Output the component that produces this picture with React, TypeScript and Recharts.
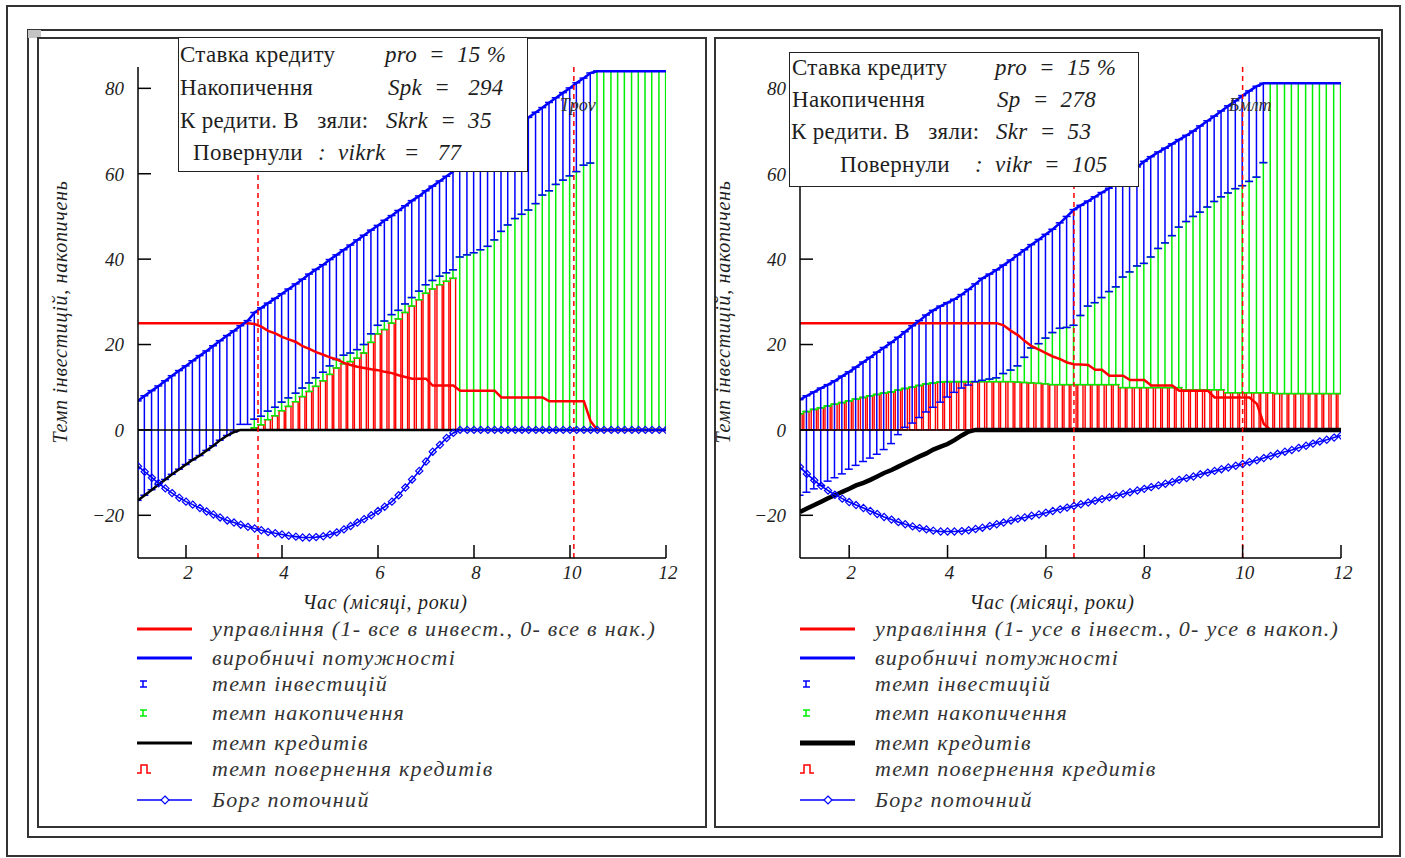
import { ComposedChart, Bar, Line, XAxis, YAxis, ReferenceLine } from "recharts";

const SERIF = '"Liberation Serif", "Times New Roman", serif';
const BLUE = "#0000ff";
const GREEN = "#00ee00";
const RED = "#ff0000";
const INK = "#1e1e1e";

// time grid shared by both panels
const time = [
  1.0, 1.14, 1.29, 1.43, 1.57, 1.71, 1.86, 2.0, 2.14, 2.29, 2.43, 2.57, 2.71, 2.86, 3.0, 3.14, 3.29, 3.43, 3.57, 3.71,
  3.86, 4.0, 4.14, 4.29, 4.43, 4.57, 4.71, 4.86, 5.0, 5.14, 5.29, 5.43, 5.57, 5.71, 5.86, 6.0, 6.14, 6.29, 6.43, 6.57,
  6.71, 6.86, 7.0, 7.14, 7.29, 7.43, 7.57, 7.71, 7.86, 8.0, 8.14, 8.29, 8.43, 8.57, 8.71, 8.86, 9.0, 9.14, 9.29, 9.43,
  9.57, 9.71, 9.86, 10.0, 10.14, 10.29, 10.43, 10.57, 10.71, 10.86, 11.0, 11.14, 11.29, 11.43, 11.57, 11.71, 11.86, 12.0,
];

const xTicks = [2, 4, 6, 8, 10, 12];
const yTicks = [-20, 0, 20, 40, 60, 80];

// left panel: credit taken, then repaid
const capacityA = [
  6.8, 8.0, 9.2, 10.3, 11.5, 12.7, 13.9, 15.0, 16.2, 17.4, 18.5, 19.7, 20.9, 22.1, 23.2, 24.4, 25.6, 27.5, 28.6, 29.7,
  30.8, 31.9, 33.0, 34.2, 35.3, 36.5, 37.6, 38.7, 39.9, 41.0, 42.2, 43.3, 44.5, 45.6, 46.8, 47.9, 49.1, 50.2, 51.4, 52.5,
  53.7, 54.8, 56.0, 57.1, 58.3, 59.4, 60.6, 61.7, 62.9, 64.0, 65.2, 66.3, 67.5, 68.6, 69.8, 70.9, 72.1, 73.2, 74.4, 75.5,
  76.7, 77.8, 79.0, 80.1, 81.3, 82.4, 83.6, 84, 84, 84, 84, 84, 84, 84, 84, 84, 84, 84,
];
const investLowA = [
  -16.5, -15.3, -14.0, -12.8, -11.6, -10.4, -9.2, -8.1, -7.0, -6.0, -4.8, -3.7, -2.4, -1.3, -0.5, 1.3, 1.3, 2.5, 3.2, 4.4,
  5.3, 6.5, 7.5, 8.6, 9.8, 11.0, 12.2, 13.5, 15.0, 16.5, 17.5, 18.0, 18.8, 20.0, 22.5, 24.5, 25.5, 27.0, 28.0, 29.5,
  31.0, 32.5, 34.0, 35.0, 36.0, 36.8, 37.5, 40.5, 41.0, 41.5, 42.2, 43.0, 44.5, 46.5, 48.0, 49.5, 50.5, 51.5, 53.0, 55.0,
  56.0, 57.5, 58.5, 59.5, 60.5, 62.0, 62.5, 84, 84, 84, 84, 84, 84, 84, 84, 84, 84, 84,
];
const repayA = [
  null, null, null, null, null, null, null, null, null, null, null, null, null, null, null, null, null, 0.5, 1.2, 2.4,
  3.3, 4.5, 5.5, 6.6, 7.8, 9.0, 10.2, 11.5, 13.0, 14.5, 15.5, 16.0, 16.8, 18.0, 20.5, 22.5, 23.5, 25.0, 26.0, 27.5,
  29.0, 30.5, 32.0, 33.0, 34.0, 34.8, 35.5, null, null, null, null, null, null, null, null, null, null, null, null, null,
  null, null, null, null, null, null, null, null, null, null, null, null, null, null, null, null, null, null,
];
const creditA = [
  -16.5, -15.3, -14.0, -12.8, -11.6, -10.4, -9.2, -8.1, -7.0, -6.0, -4.8, -3.7, -2.4, -1.3, -0.5, 0, 0, 0, 0, 0,
  0, 0, 0, 0, 0, 0, 0, 0, 0, 0, 0, 0, 0, 0, 0, 0, 0, 0, 0, 0,
  0, 0, 0, 0, 0, 0, 0, 0, 0, 0, 0, 0, 0, 0, 0, 0, 0, 0, 0, 0,
  0, 0, 0, 0, 0, 0, 0, 0, 0, 0, 0, 0, 0, 0, 0, 0, 0, 0,
];
const debtA = [
  -8.5, -9.8, -11.2, -12.5, -13.7, -14.8, -15.9, -16.8, -17.5, -18.3, -19.1, -19.8, -20.5, -21.2, -21.7, -22.2, -22.7, -23.1, -23.5, -23.9,
  -24.2, -24.5, -24.8, -25.0, -25.2, -25.2, -25.1, -24.9, -24.5, -24.0, -23.3, -22.5, -21.7, -20.9, -20.0, -19.0, -18.0, -16.8, -15.3, -13.5,
  -11.6, -9.6, -7.4, -5.1, -3.5, -1.9, -0.7, 0, 0, 0, 0, 0, 0, 0, 0, 0, 0, 0, 0, 0,
  0, 0, 0, 0, 0, 0, 0, 0, 0, 0, 0, 0, 0, 0, 0, 0, 0, 0,
];
const controlA = [
  25, 25, 25, 25, 25, 25, 25, 25, 25, 25, 25, 25, 25, 25, 25, 25, 25, 24.8, 24.2, 23.2,
  22.6, 21.8, 21.2, 20.6, 19.6, 19.0, 18.2, 17.6, 17.0, 16.5, 15.7, 15.2, 14.8, 14.5, 14.2, 14.0, 13.6, 13.3, 12.8, 12.4,
  12.0, 12.0, 12.0, 10.4, 10.4, 10.4, 10.4, 9.2, 9.2, 9.2, 9.2, 9.2, 9.2, 7.6, 7.6, 7.6, 7.6, 7.6, 7.6, 7.6,
  6.7, 6.7, 6.7, 6.7, 6.7, 6.7, 2, 0, 0, 0, 0, 0, 0, 0, 0, 0, 0, 0,
];
const marksA = [3.5, 10.08];

// right panel
const capacityB = [
  7.1, 8.0, 8.9, 9.8, 10.6, 11.5, 12.6, 13.6, 14.7, 15.9, 17.0, 18.2, 19.3, 20.5, 21.7, 23.0, 24.4, 25.6, 26.9, 28.0,
  29.0, 29.8, 30.6, 31.7, 32.9, 34.2, 35.5, 36.5, 37.5, 38.6, 39.8, 41.0, 42.2, 43.4, 44.6, 45.8, 47.0, 48.5, 50.0, 51.6,
  52.6, 53.6, 54.6, 55.6, 56.6, 57.8, 59.1, 60.3, 61.6, 62.9, 64.0, 65.1, 66.0, 67.0, 68.0, 69.0, 70.0, 71.2, 72.4, 73.5,
  74.7, 75.9, 77.1, 78.3, 79.4, 80.5, 81.2, 81.2, 81.2, 81.2, 81.2, 81.2, 81.2, 81.2, 81.2, 81.2, 81.2, 81.2,
];
const investLowB = [
  -15.3, -14.6, -13.8, -13.0, -12.0, -11.2, -10.3, -9.2, -8.3, -7.4, -6.6, -5.7, -4.6, -3.2, -1.1, 0.6, 1.6, 2.9, 4.2, 5.3,
  6.5, 7.7, 8.8, 9.8, 10.5, 11.3, 11.6, 11.9, 12.2, 13.2, 14.0, 15.0, 17.0, 19.2, 20.2, 21.5, 22.8, 23.8, 24.0, 24.5,
  26.8, 29.0, 29.8, 31.0, 32.4, 33.5, 35.8, 37.0, 38.4, 39.0, 40.5, 42.5, 43.8, 45.5, 47.5, 48.8, 50.0, 51.0, 52.2, 53.5,
  54.6, 55.5, 56.5, 57.2, 58.2, 59.2, 62.6, 81.2, 81.2, 81.2, 81.2, 81.2, 81.2, 81.2, 81.2, 81.2, 81.2, 81.2,
];
const repayB = [
  3.8, 4.3, 4.8, 5.2, 5.6, 6.0, 6.4, 6.8, 7.2, 7.6, 8.0, 8.3, 8.6, 8.9, 9.3, 9.7, 10.0, 10.4, 10.8, 11.0,
  11.2, 11.3, 11.3, 11.3, 11.3, 11.3, 11.3, 11.3, 11.3, 11.3, 11.3, 11.2, 11.1, 11.0, 10.9, 10.8, 10.6, 10.6, 10.6, 10.6,
  10.6, 10.6, 10.6, 10.6, 10.6, 10.6, 9.9, 9.9, 9.9, 9.9, 9.9, 9.9, 9.9, 9.9, 9.9, 9.4, 9.4, 9.4, 9.4, 9.4,
  9.4, 8.7, 8.7, 8.7, 8.7, 8.7, 8.7, 8.7, 8.5, 8.5, 8.5, 8.5, 8.5, 8.5, 8.5, 8.5, 8.5, 8.5,
];
const creditB = [
  -19.2, -18.4, -17.6, -16.8, -16.0, -15.3, -14.5, -13.8, -13.0, -12.4, -11.7, -10.9, -10.1, -9.4, -8.6, -7.8, -7.0, -6.2, -5.5, -4.6,
  -3.9, -3.3, -2.4, -1.3, -0.4, 0, 0, 0, 0, 0, 0, 0, 0, 0, 0, 0, 0, 0, 0, 0,
  0, 0, 0, 0, 0, 0, 0, 0, 0, 0, 0, 0, 0, 0, 0, 0, 0, 0, 0, 0,
  0, 0, 0, 0, 0, 0, 0, 0, 0, 0, 0, 0, 0, 0, 0, 0, 0, 0,
];
const debtB = [
  -8.7, -10.3, -11.8, -13.1, -14.2, -15.2, -16.1, -16.9, -17.6, -18.3, -19.0, -19.7, -20.4, -21.0, -21.6, -22.1, -22.6, -23.0, -23.3, -23.6,
  -23.8, -23.8, -23.8, -23.7, -23.5, -23.2, -22.9, -22.5, -22.1, -21.7, -21.2, -20.8, -20.5, -20.1, -19.8, -19.4, -19.0, -18.6, -18.2, -17.8,
  -17.4, -17.0, -16.6, -16.2, -15.8, -15.4, -15.0, -14.6, -14.2, -13.8, -13.4, -13.0, -12.6, -12.2, -11.7, -11.3, -10.9, -10.4, -10.0, -9.6,
  -9.2, -8.8, -8.4, -8.0, -7.5, -7.1, -6.6, -6.1, -5.6, -5.1, -4.7, -4.2, -3.7, -3.2, -2.7, -2.3, -1.8, -1.3,
];
const controlB = [
  25, 25, 25, 25, 25, 25, 25, 25, 25, 25, 25, 25, 25, 25, 25, 25, 25, 25, 25, 25,
  25, 25, 25, 25, 25, 25, 25, 25, 25, 24.5, 23.2, 22.2, 20.8, 19.6, 18.8, 18.0, 17.2, 16.6, 15.8, 15.4,
  15.3, 15.2, 14.1, 14.1, 12.7, 12.7, 12.7, 11.7, 11.7, 11.7, 10.4, 10.4, 10.4, 10.4, 9.2, 9.2, 9.2, 9.2, 9.2, 7.6,
  7.6, 7.6, 7.6, 7.6, 7.6, 6.1, 1.4, 0, 0, 0, 0, 0, 0, 0, 0, 0, 0, 0,
];
const marksB = [6.57, 10.0];

const legendA = [
  "управління (1- все в инвест., 0- все в нак.)",
  "виробничі потужності",
  "темп інвестицій",
  "темп накопичення",
  "темп кредитів",
  "темп повернення кредитів",
  "Борг поточний",
];
const legendB = [
  "управління (1- усе в інвест., 0- усе в накоп.)",
  "виробничі потужності",
  "темп інвестицій",
  "темп накопичення",
  "темп кредитів",
  "темп повернення кредитів",
  "Борг поточний",
];

const boxLabelsA = ["Ставка кредиту", "Накопичення", "К редити. В   зяли:", "Повернули"];
const boxExprA = ["pro  =  15 %", "Spk  =   294", "Skrk  =  35", ":  vikrk   =   77"];
const boxLabelsB = ["Ставка кредиту", "Накопичення", "К редити. В   зяли:", "Повернули"];
const boxExprB = ["pro  =  15 %", "Sp  =  278", "Skr  =  53", ":  vikr  =  105"];

type Row = {
  t: number;
  cap: number;
  inv: number[];
  acc: number[] | null;
  rep: number[] | null;
  credit: number;
  debt: number;
  control: number;
};

function makeRows(
  cap: number[],
  low: number[],
  rep: (number | null)[],
  credit: number[],
  debt: number[],
  control: number[],
  greenFrom: number
): Row[] {
  return time.map((t, i) => {
    const r = rep[i];
    const base = r ?? 0;
    return {
      t,
      cap: cap[i],
      inv: [low[i], cap[i]],
      acc: i >= greenFrom ? [base, Math.max(base, low[i])] : null,
      rep: r == null ? null : [0, r],
      credit: credit[i],
      debt: debt[i],
      control: control[i],
    };
  });
}

const rowsA = makeRows(capacityA, investLowA, repayA, creditA, debtA, controlA, 17);
const rowsB = makeRows(capacityB, investLowB, repayB, creditB, debtB, controlB, 0);

function ends(p: any) {
  const { x, y, width, height } = p;
  if (![x, y, width, height].every((v) => typeof v === "number" && isFinite(v))) return null;
  const cx = x + width / 2;
  return { cx, top: Math.min(y, y + height), bot: Math.max(y, y + height) };
}

// Mathcad-style error bar: stem with short caps at both ends
function errorShape(color: string, cap: number) {
  return (p: any) => {
    const e = ends(p);
    if (!e) return <g />;
    return (
      <g stroke={color} strokeWidth={1.5}>
        <line x1={e.cx} y1={e.top} x2={e.cx} y2={e.bot} />
        <line x1={e.cx - cap / 2} y1={e.top} x2={e.cx + cap / 2} y2={e.top} />
        <line x1={e.cx - cap / 2} y1={e.bot} x2={e.cx + cap / 2} y2={e.bot} />
      </g>
    );
  };
}

const repayShape = (p: any) => {
  const e = ends(p);
  if (!e) return <g />;
  return (
    <rect x={e.cx - 2.6} y={e.top} width={5.2} height={e.bot - e.top} fill="none" stroke={RED} strokeWidth={1.4} />
  );
};

const blueBar = errorShape(BLUE, 8);
const greenBar = errorShape(GREEN, 8);

const diamond = (p: any) => {
  const { cx, cy, index } = p;
  if (cx == null || cy == null) return <g key={index} />;
  const s = 3.6;
  return (
    <path
      key={index}
      d={`M${cx},${cy - s}L${cx + s},${cy}L${cx},${cy + s}L${cx - s},${cy}Z`}
      fill="none"
      stroke={BLUE}
      strokeWidth={1.2}
    />
  );
};

const TICK = 13;
const fmt = (v: number) => (v < 0 ? `\u2212${Math.abs(v)}` : `${v}`);

const LeftTick = (p: any) => (
  <g>
    <line x1={p.x + 14} y1={p.y} x2={p.x + 14 + TICK} y2={p.y} stroke="#000" strokeWidth={1.5} />
    <text x={p.x} y={p.y} dy="0.36em" textAnchor="end" fontFamily={SERIF} fontStyle="italic" fontSize={19} fill={INK}>
      {fmt(p.payload.value)}
    </text>
  </g>
);
const BottomTick = (p: any) => (
  <g>
    <line x1={p.x} y1={p.y} x2={p.x} y2={p.y - TICK} stroke="#000" strokeWidth={1.5} />
    <text x={p.x + 2} y={p.y + 21} textAnchor="middle" fontFamily={SERIF} fontStyle="italic" fontSize={19} fill={INK}>
      {p.payload.value}
    </text>
  </g>
);
const RightTick = (p: any) => (
  <line x1={p.x - TICK} y1={p.y} x2={p.x} y2={p.y} stroke="#000" strokeWidth={1.5} />
);
const TopTick = (p: any) => <line x1={p.x} y1={p.y} x2={p.x} y2={p.y + TICK} stroke="#000" strokeWidth={1.5} />;

const MarkLabel = (p: any) => {
  const vb = p.viewBox;
  if (!p.text || !vb) return null;
  return (
    <text x={vb.x - 14} y={vb.y + 44} fontFamily={SERIF} fontStyle="italic" fontSize={18} fill="#333">
      {p.text}
    </text>
  );
};

type PanelProps = {
  rows: Row[];
  left: number;
  width: number;
  marginLeft: number;
  marginRight: number;
  marks: number[];
  markText: string;
  creditWidth: number;
};

function Plot({ rows, left, width, marginLeft, marginRight, marks, markText, creditWidth }: PanelProps) {
  return (
    <div style={{ position: "absolute", left, top: 0 }}>
      <ComposedChart
        width={width}
        height={600}
        data={rows}
        margin={{ top: 67, right: marginRight, bottom: 12, left: marginLeft }}
        barGap={-2}
      >
        <XAxis
          dataKey="t"
          type="number"
          domain={[1, 12]}
          ticks={xTicks}
          interval={0}
          allowDataOverflow
          height={30}
          tickSize={0}
          tickMargin={0}
          tickLine={false}
          tick={BottomTick}
          axisLine={{ stroke: "#000", strokeWidth: 1.5 }}
        />
        <XAxis
          xAxisId="top"
          orientation="top"
          type="number"
          domain={[1, 12]}
          ticks={xTicks}
          interval={0}
          allowDataOverflow
          height={0}
          tickSize={0}
          tickMargin={0}
          tickLine={false}
          tick={TopTick}
          axisLine={{ stroke: "#000", strokeWidth: 1.5 }}
        />
        <YAxis
          type="number"
          domain={[-30, 85]}
          ticks={yTicks}
          interval={0}
          allowDataOverflow
          width={40}
          tickSize={0}
          tickMargin={14}
          tickLine={false}
          tick={LeftTick}
          axisLine={{ stroke: "#000", strokeWidth: 1.5 }}
        />
        <YAxis
          yAxisId="right"
          orientation="right"
          type="number"
          domain={[-30, 85]}
          ticks={yTicks}
          interval={0}
          allowDataOverflow
          width={0}
          tickSize={0}
          tickMargin={0}
          tickLine={false}
          tick={RightTick}
          axisLine={{ stroke: "#000", strokeWidth: 1.5 }}
        />
        <ReferenceLine y={0} stroke="#000" strokeWidth={1.5} />
        <Bar dataKey="rep" barSize={2} shape={repayShape} isAnimationActive={false} />
        <Bar dataKey="acc" barSize={2} shape={greenBar} isAnimationActive={false} />
        <Bar dataKey="inv" barSize={2} shape={blueBar} isAnimationActive={false} />
        <Line type="linear" dataKey="control" stroke={RED} strokeWidth={2.5} dot={false} isAnimationActive={false} />
        <Line type="linear" dataKey="cap" stroke={BLUE} strokeWidth={2.5} dot={false} isAnimationActive={false} />
        <Line
          type="linear"
          dataKey="credit"
          stroke="#000"
          strokeWidth={creditWidth}
          dot={false}
          isAnimationActive={false}
        />
        <Line type="linear" dataKey="debt" stroke={BLUE} strokeWidth={1.6} dot={diamond} isAnimationActive={false} />
        {marks.map((m, i) => (
          <ReferenceLine
            key={m}
            x={m}
            stroke={RED}
            strokeWidth={1.5}
            strokeDasharray="5 4"
            label={<MarkLabel text={i === 1 ? markText : ""} />}
          />
        ))}
      </ComposedChart>
    </div>
  );
}

function InfoBox({
  left,
  top,
  labels,
  exprs,
  labelX,
  exprX,
  rowY,
}: {
  left: number;
  top: number;
  labels: string[];
  exprs: string[];
  labelX: number[];
  exprX: number[];
  rowY: number[];
}) {
  return (
    <div
      style={{
        position: "absolute",
        left,
        top,
        width: 348,
        height: 133,
        border: "1.5px solid #222",
        background: "#fff",
        fontFamily: SERIF,
        fontSize: 23,
        letterSpacing: 0.3,
        color: INK,
        whiteSpace: "pre",
      }}
    >
      {labels.map((l, i) => (
        <div key={"l" + i} style={{ position: "absolute", left: labelX[i], top: rowY[i] - 14, lineHeight: "28px" }}>
          {l}
        </div>
      ))}
      {exprs.map((e, i) => (
        <div
          key={"e" + i}
          style={{ position: "absolute", left: exprX[i], top: rowY[i] - 14, lineHeight: "28px", fontStyle: "italic" }}
        >
          {e}
        </div>
      ))}
    </div>
  );
}

const legendRowY = [629, 658, 684, 713, 743, 769, 800];

function LegendBlock({ x, texts, creditWidth }: { x: number; texts: string[]; creditWidth: number }) {
  const ix = x;
  const tx = x + 75;
  const y = legendRowY;
  return (
    <svg style={{ position: "absolute", left: 0, top: 0 }} width={1405} height={858}>
      <line x1={ix} y1={y[0]} x2={ix + 55} y2={y[0]} stroke={RED} strokeWidth={3} />
      <line x1={ix} y1={y[1]} x2={ix + 55} y2={y[1]} stroke={BLUE} strokeWidth={3} />
      <g stroke={BLUE} strokeWidth={1.5}>
        <line x1={ix + 6} y1={y[2] - 3} x2={ix + 6} y2={y[2] + 3} />
        <line x1={ix + 3} y1={y[2] - 3} x2={ix + 10} y2={y[2] - 3} />
        <line x1={ix + 3} y1={y[2] + 3} x2={ix + 10} y2={y[2] + 3} />
      </g>
      <g stroke={GREEN} strokeWidth={1.5}>
        <line x1={ix + 6} y1={y[3] - 3} x2={ix + 6} y2={y[3] + 3} />
        <line x1={ix + 3} y1={y[3] - 3} x2={ix + 10} y2={y[3] - 3} />
        <line x1={ix + 3} y1={y[3] + 3} x2={ix + 10} y2={y[3] + 3} />
      </g>
      <line x1={ix} y1={y[4]} x2={ix + 55} y2={y[4]} stroke="#000" strokeWidth={creditWidth} />
      <path
        d={`M${ix},${y[5] + 4}H${ix + 4}V${y[5] - 4}H${ix + 10}V${y[5] + 4}H${ix + 14}`}
        fill="none"
        stroke={RED}
        strokeWidth={1.5}
      />
      <line x1={ix} y1={y[6]} x2={ix + 55} y2={y[6]} stroke={BLUE} strokeWidth={1.5} />
      <path
        d={`M${ix + 28},${y[6] - 4}L${ix + 32},${y[6]}L${ix + 28},${y[6] + 4}L${ix + 24},${y[6]}Z`}
        fill="#fff"
        stroke={BLUE}
        strokeWidth={1.2}
      />
      {texts.map((t, i) => (
        <text
          key={i}
          x={tx}
          y={y[i] + 7}
          fontFamily={SERIF}
          fontStyle="italic"
          fontSize={22}
          letterSpacing={1.3}
          fill="#333"
        >
          {t}
        </text>
      ))}
    </svg>
  );
}

const axisTitle: React.CSSProperties = {
  position: "absolute",
  fontFamily: SERIF,
  fontStyle: "italic",
  fontSize: 20,
  letterSpacing: 0.7,
  color: INK,
  whiteSpace: "nowrap",
};

export default function App() {
  return (
    <div
      style={{
        position: "absolute",
        left: 0,
        top: 0,
        width: 1405,
        height: 858,
        background: "#fff",
        overflow: "hidden",
      }}
    >
      {/* page and panel frames */}
      <div style={{ position: "absolute", left: 6, top: 5, width: 1391, height: 848, border: "2px solid #333" }} />
      <div style={{ position: "absolute", left: 27, top: 29, width: 1352, height: 805, border: "2px solid #333" }} />
      <div style={{ position: "absolute", left: 28, top: 30, width: 13, height: 8, background: "#c4c4c4" }} />
      <div style={{ position: "absolute", left: 37, top: 37, width: 666, height: 787, border: "2px solid #333" }} />
      <div style={{ position: "absolute", left: 714, top: 37, width: 662, height: 787, border: "2px solid #333" }} />

      <Plot rows={rowsA} left={0} width={700} marginLeft={98} marginRight={34} marks={marksA} markText="Tpov" creditWidth={2.5} />
      <Plot rows={rowsB} left={700} width={680} marginLeft={60} marginRight={39} marks={marksB} markText="Бмлт" creditWidth={4.5} />

      <div style={{ ...axisTitle, left: 60, top: 312, transform: "translate(-50%, -50%) rotate(-90deg)" }}>
        Темп інвестицій, накопичень
      </div>
      <div style={{ ...axisTitle, left: 723, top: 312, transform: "translate(-50%, -50%) rotate(-90deg)" }}>
        Темп інвестицій, накопичень
      </div>
      <div style={{ ...axisTitle, left: 385, top: 602, transform: "translate(-50%, -50%)" }}>Час (місяці, роки)</div>
      <div style={{ ...axisTitle, left: 1052, top: 602, transform: "translate(-50%, -50%)" }}>Час (місяці, роки)</div>

      <InfoBox
        left={178}
        top={37}
        labels={boxLabelsA}
        exprs={boxExprA}
        labelX={[1, 1, 1, 14]}
        exprX={[206, 209, 207, 139]}
        rowY={[17, 50, 83, 115]}
      />
      <InfoBox
        left={789}
        top={52}
        labels={boxLabelsB}
        exprs={boxExprB}
        labelX={[2, 2, 1, 50]}
        exprX={[205, 207, 206, 185]}
        rowY={[15, 47, 79, 112]}
      />

      <LegendBlock x={137} texts={legendA} creditWidth={3} />
      <LegendBlock x={800} texts={legendB} creditWidth={5} />
    </div>
  );
}
